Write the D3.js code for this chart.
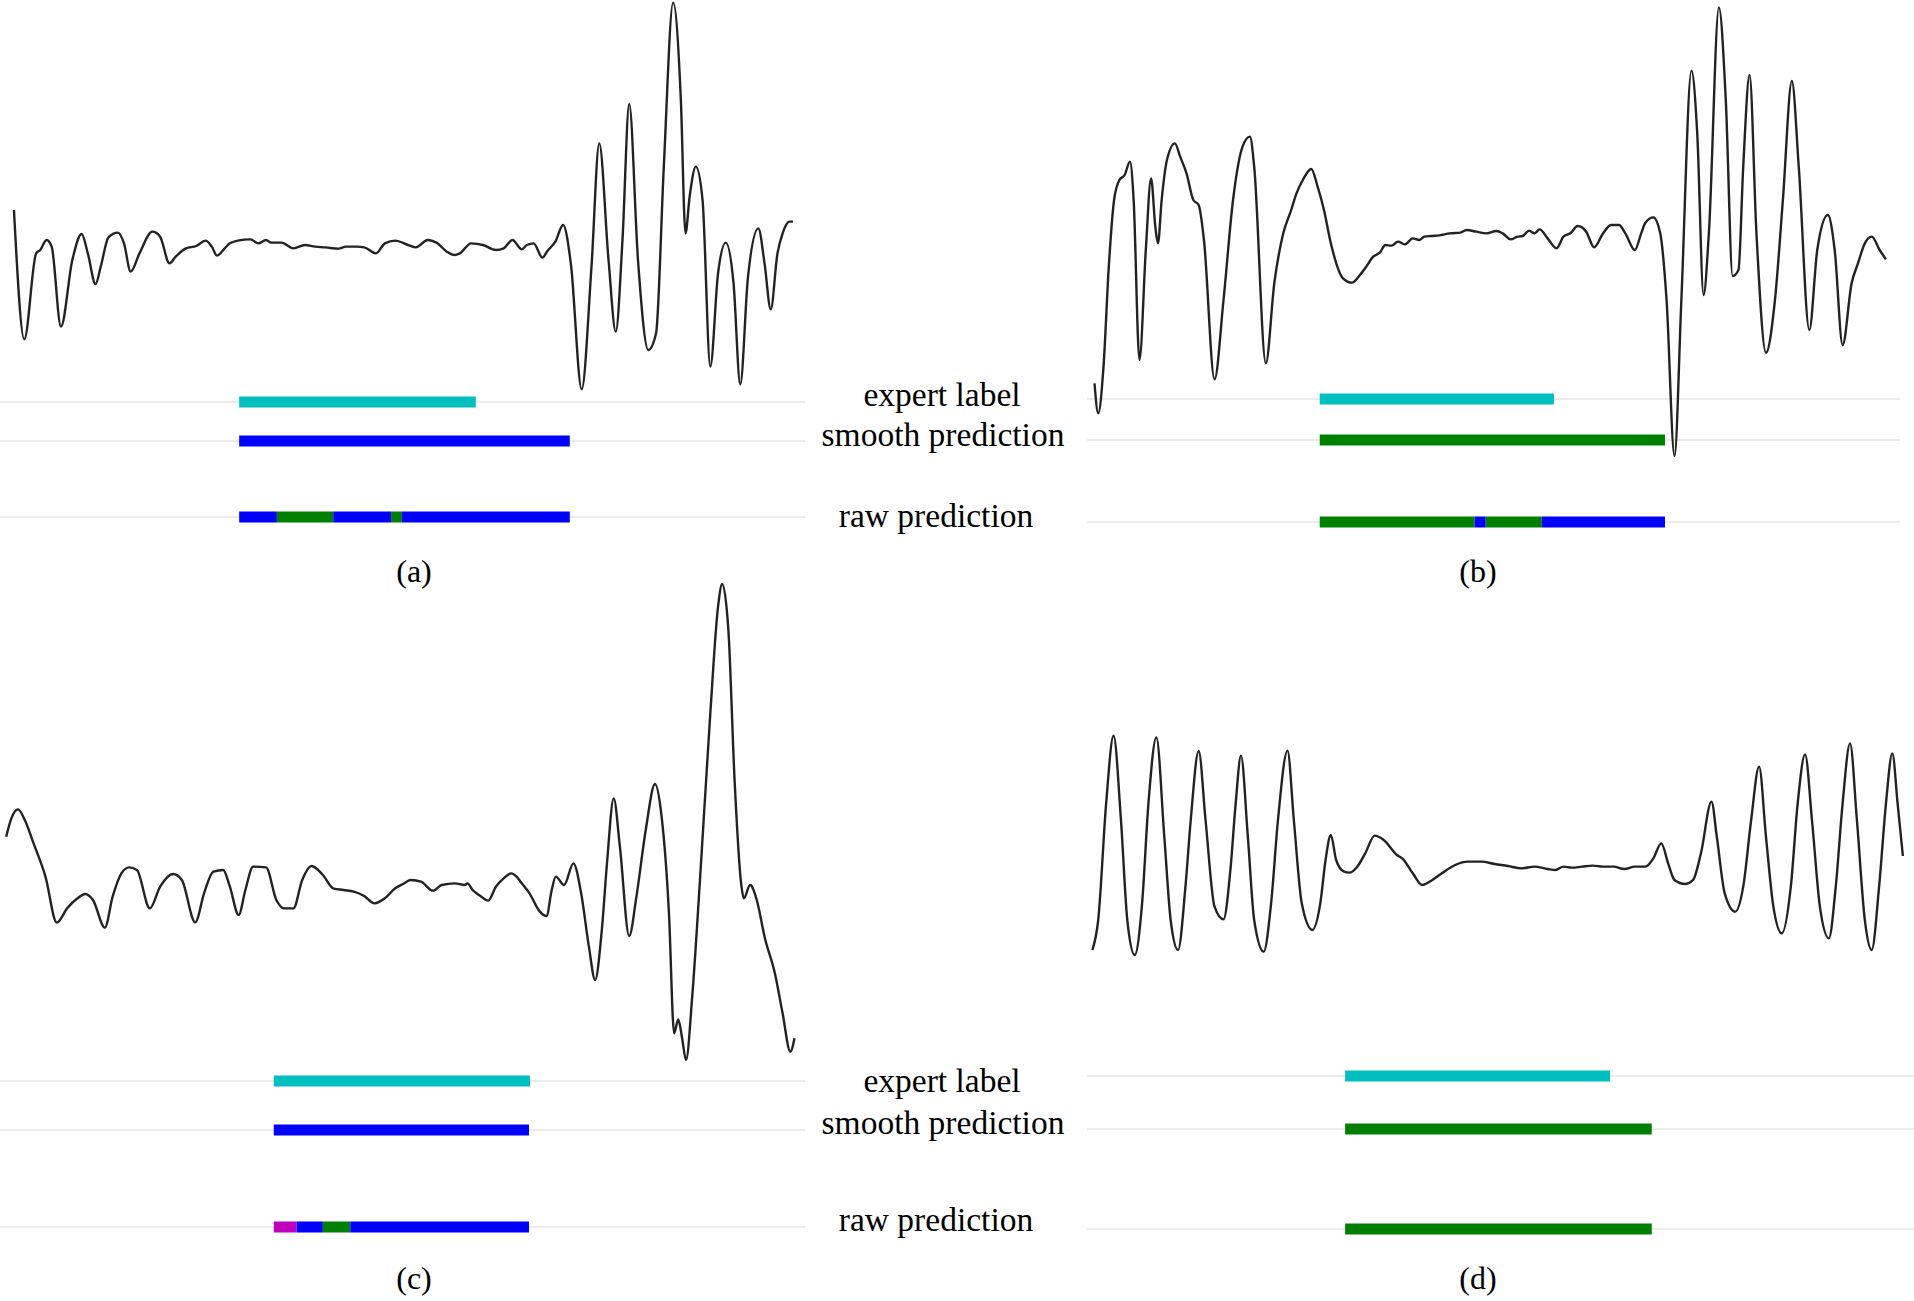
<!DOCTYPE html>
<html>
<head>
<meta charset="utf-8">
<script src="https://cdn.jsdelivr.net/npm/d3@7"></script>
<style>body{margin:0;background:#fff}</style>
</head>
<body>
<svg id="fig" width="1914" height="1301"></svg>
<script>
// row names shown between the panels
var rowNames = ["expert label", "smooth prediction", "raw prediction"];
var captions = ["(a)", "(b)", "(c)", "(d)"];
var classes = ["expert", "A", "B", "C"];
var classColors = ["#00bfbf", "#0000ff", "#008000", "#bf00bf"];

// signals, [sample, depth] (depth grows downwards)
var waveA = [[27,630],[47,1018],[70,760],[78,750],[90,720],[100,740],[118,980],[140,780],[158,702],[170,760],[185,852],[195,800],[210,712],[228,698],[240,730],[253,815],[270,760],[295,695],[310,710],[328,790],[340,770],[360,745],[380,738],[398,722],[410,740],[420,767],[435,745],[445,730],[460,722],[485,718],[500,730],[515,720],[525,728],[545,728],[568,745],[590,735],[610,740],[630,742],[655,746],[670,740],[690,740],[705,742],[728,760],[745,730],[765,722],[790,735],[805,742],[828,720],[845,728],[865,755],[880,765],[890,760],[912,730],[935,735],[960,750],[975,745],[992,720],[1010,748],[1020,735],[1033,730],[1050,773],[1060,752],[1075,725],[1090,675],[1105,790],[1126,1168],[1145,800],[1160,430],[1178,780],[1192,995],[1205,720],[1218,312],[1235,780],[1255,1050],[1270,1000],[1285,500],[1303,8],[1318,300],[1327,700],[1335,590],[1347,500],[1360,600],[1375,1100],[1390,820],[1405,728],[1420,850],[1433,1153],[1448,830],[1468,685],[1480,790],[1492,928],[1505,760],[1515,700],[1528,665],[1535,665]];

var waveB = [[18,1150],[25,1240],[35,1100],[45,800],[55,600],[65,540],[75,525],[85,485],[92,600],[103,1080],[115,750],[125,535],[133,680],[138,730],[145,600],[155,480],[170,430],[180,470],[192,520],[205,600],[215,615],[225,720],[245,1138],[262,900],[280,600],[298,440],[312,410],[320,500],[342,1090],[358,850],[375,700],[390,630],[400,580],[412,540],[428,507],[440,560],[452,630],[465,730],[488,835],[505,848],[520,825],[532,800],[545,770],[558,757],[568,735],[580,737],[592,725],[605,733],[620,715],[632,720],[642,710],[655,708],[670,706],[690,700],[710,698],[722,690],[740,695],[760,700],[778,693],[790,700],[805,718],[818,710],[828,708],[840,692],[850,700],[860,688],[875,715],[892,745],[905,710],[918,700],[932,678],[948,695],[963,742],[980,700],[995,675],[1010,675],[1022,700],[1040,750],[1052,700],[1060,668],[1075,652],[1088,700],[1100,900],[1115,1368],[1128,900],[1147,212],[1158,400],[1170,885],[1180,700],[1199,22],[1212,300],[1225,828],[1236,810],[1245,500],[1257,225],[1270,700],[1288,1058],[1305,900],[1320,600],[1337,243],[1350,500],[1370,990],[1385,750],[1405,645],[1418,750],[1433,1035],[1450,850],[1462,790],[1475,730],[1488,710],[1503,750],[1515,778]];

var waveC = [[12,770],[22,715],[35,688],[48,720],[65,790],[88,890],[110,1028],[130,985],[150,955],[165,942],[180,960],[203,1043],[218,950],[235,880],[250,862],[265,870],[290,985],[310,920],[335,882],[352,900],[378,1027],[395,940],[413,875],[432,870],[445,920],[462,1005],[475,930],[490,860],[515,862],[535,960],[550,985],[568,985],[585,900],[603,858],[625,885],[645,925],[665,930],[685,935],[705,948],[725,970],[745,955],[765,925],[780,912],[795,900],[815,905],[838,932],[855,915],[880,910],[900,915],[905,910],[915,930],[930,948],[945,962],[960,920],[975,895],[990,880],[1000,890],[1010,910],[1025,940],[1045,995],[1058,1008],[1068,930],[1076,890],[1092,915],[1110,850],[1125,940],[1140,1100],[1152,1200],[1165,1050],[1175,850],[1188,655],[1200,800],[1218,1068],[1232,950],[1250,750],[1268,612],[1280,700],[1295,1000],[1305,1360],[1313,1318],[1320,1370],[1328,1440],[1340,1250],[1355,900],[1375,400],[1390,80],[1398,12],[1410,150],[1422,600],[1435,915],[1440,955],[1452,915],[1465,960],[1480,1070],[1500,1180],[1515,1300],[1530,1415],[1538,1375]];

var waveD = [[14,690],[25,600],[40,250],[54,47],[68,300],[80,600],[94,705],[108,550],[120,250],[135,52],[150,350],[162,600],[176,690],[190,500],[200,300],[215,93],[228,300],[245,560],[262,598],[275,450],[285,250],[295,107],[308,350],[320,600],[338,695],[352,550],[365,300],[383,92],[395,300],[410,550],[430,630],[445,550],[455,420],[465,345],[475,420],[490,455],[500,458],[515,440],[530,400],[548,347],[565,360],[590,405],[600,415],[620,460],[638,495],[655,482],[675,460],[700,435],[725,425],[750,425],[775,432],[800,438],[825,445],[850,440],[875,447],[890,450],[905,440],[920,443],[940,440],[960,437],[980,440],[1000,440],[1020,447],[1040,440],[1060,440],[1075,415],[1090,370],[1103,430],[1115,480],[1135,492],[1150,480],[1165,400],[1185,245],[1195,350],[1210,520],[1230,575],[1245,500],[1260,300],[1275,140],[1288,350],[1302,560],[1318,640],[1335,500],[1348,250],[1362,103],[1375,300],[1390,560],[1407,655],[1420,500],[1433,250],[1447,70],[1460,300],[1475,600],[1488,690],[1502,500],[1515,250],[1527,100],[1537,250],[1547,408]];

// segments [start, end, class] for each row
var expertA = [[463, 921, "expert"]];
var smoothA = [[463, 1103, "A"]];
var rawA = [[463, 536, "A"], [536, 645, "B"], [645, 757, "A"], [757, 778, "B"], [778, 1103, "A"]];

var expertB = [[444, 887, "expert"]];
var smoothB = [[444, 1097, "B"]];
var rawB = [[444, 737, "B"], [737, 758, "A"], [758, 864, "B"], [864, 1097, "A"]];

var expertC = [[530, 1026, "expert"]];
var smoothC = [[530, 1024, "A"]];
var rawC = [[530, 574, "C"], [574, 625, "A"], [625, 678, "B"], [678, 1024, "A"]];

var expertD = [[492, 993, "expert"]];
var smoothD = [[492, 1072, "B"]];
var rawD = [[492, 1072, "B"]];

var svg = d3.select("#fig");
var color = d3.scaleOrdinal().domain(classes).range(classColors);

var panels = [
  {wave: waveA, rows: [expertA, smoothA, rawA], x: [0, 810], yd: 1200, y: [0, 400], grid: [0, 805], rowY: [402, 441, 517], cap: [414, 582]},
  {wave: waveB, rows: [expertB, smoothB, rawB], x: [1085, 1914], yd: 1410, y: [0, 470], grid: [1087, 1900], rowY: [399, 440, 522], cap: [1478, 582]},
  {wave: waveC, rows: [expertC, smoothC, rawC], x: [0, 810], yd: 1470, y: [580, 1070], grid: [0, 805], rowY: [1081, 1130, 1227], cap: [414, 1289]},
  {wave: waveD, rows: [expertD, smoothD, rawD], x: [1085, 1914], yd: 750, y: [720, 970], grid: [1087, 1914], rowY: [1076, 1129, 1229], cap: [1478, 1289]}
];

panels.forEach(function(p, i) {
  var x = d3.scaleLinear().domain([0, 1568]).range(p.x);
  var y = d3.scaleLinear().domain([0, p.yd]).range(p.y);
  var rowScale = d3.scaleOrdinal().domain(rowNames).range(p.rowY);
  var g = svg.append("g");

  // faint guide lines
  g.selectAll("line.grid")
    .data(rowNames)
    .enter().append("line")
    .attr("x1", p.grid[0]).attr("x2", p.grid[1])
    .attr("y1", function(d) { return rowScale(d); })
    .attr("y2", function(d) { return rowScale(d); })
    .attr("stroke", "#ebebeb")
    .attr("stroke-width", 2);

  rowNames.forEach(function(name, r) {
    g.selectAll("rect.r" + r)
      .data(p.rows[r])
      .enter().append("rect")
      .attr("x", function(d) { return x(d[0]); })
      .attr("width", function(d) { return x(d[1]) - x(d[0]); })
      .attr("y", rowScale(name) - 5.5)
      .attr("height", 11)
      .attr("fill", function(d) { return color(d[2]); });
  });

  var line = d3.line()
    .x(function(d) { return x(d[0]); })
    .y(function(d) { return y(d[1]); })
    .curve(d3.curveMonotoneX);

  g.append("path")
    .attr("d", line(p.wave))
    .attr("fill", "none")
    .attr("stroke", "#222")
    .attr("stroke-width", 2.4);

  g.append("text")
    .attr("x", p.cap[0]).attr("y", p.cap[1])
    .attr("text-anchor", "middle")
    .style("font-family", "'Liberation Serif', 'Times New Roman', serif")
    .style("font-size", "32px")
    .text(captions[i]);
});

// row names in the middle column
var labelY = [[406, 446, 527], [1092, 1134, 1231]];
var labelX = [942, 943, 936];
labelY.forEach(function(ys) {
  svg.append("g").selectAll("text")
    .data(rowNames)
    .enter().append("text")
    .attr("x", function(d, i) { return labelX[i]; })
    .attr("y", function(d, i) { return ys[i]; })
    .attr("text-anchor", "middle")
    .style("font-family", "'Liberation Serif', 'Times New Roman', serif")
    .style("font-size", "33.5px")
    .text(function(d) { return d; });
});
</script>
</body>
</html>
